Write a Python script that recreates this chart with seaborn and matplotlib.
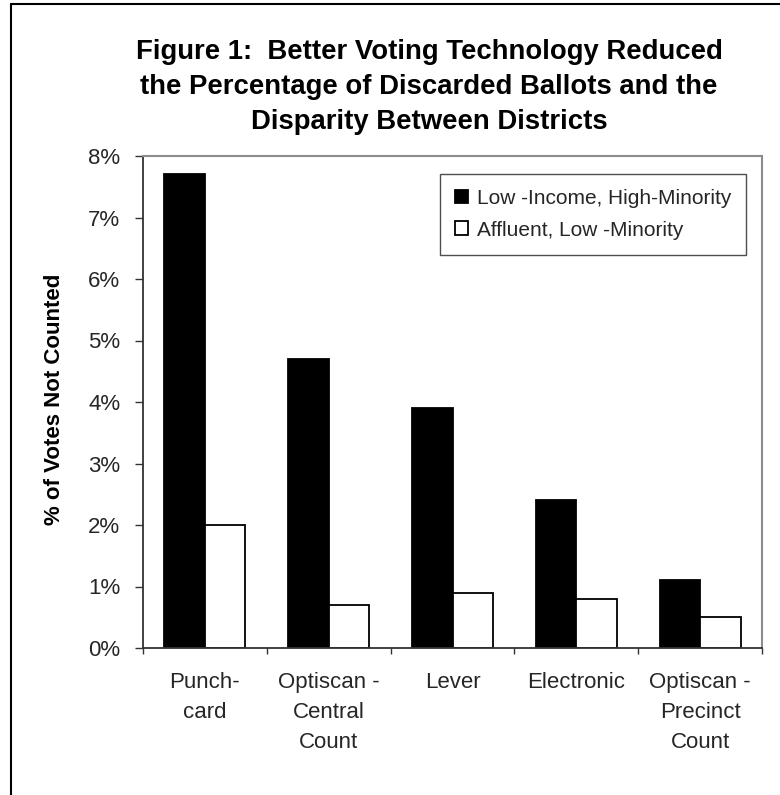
import matplotlib
matplotlib.use("Agg")
import matplotlib.pyplot as plt
import seaborn as sns
import pandas as pd
from matplotlib.lines import Line2D
from matplotlib.ticker import FixedLocator, FuncFormatter

categories = ["Punch-\ncard", "Optiscan -\nCentral\nCount", "Lever", "Electronic",
              "Optiscan -\nPrecinct\nCount"]
series_names = ["Low -Income, High-Minority", "Affluent, Low -Minority"]
low_income = [7.7, 4.7, 3.9, 2.4, 1.1]
affluent = [2.0, 0.7, 0.9, 0.8, 0.5]
y_ticks = [0, 1, 2, 3, 4, 5, 6, 7, 8]
title_lines = ["Figure 1:  Better Voting Technology Reduced",
               "the Percentage of Discarded Ballots and the",
               "Disparity Between Districts"]
y_label = "% of Votes Not Counted"

df = pd.DataFrame({
    "category": categories * 2,
    "series": [series_names[0]] * len(categories) + [series_names[1]] * len(categories),
    "value": low_income + affluent,
})

sns.set_theme(style="white")
plt.rcParams["font.family"] = ["Liberation Sans", "DejaVu Sans"]

W, H = 780, 795
fig = plt.figure(figsize=(W / 100, H / 100), dpi=100)
fig.patch.set_facecolor("white")

L, R, T, B = 143, 762, 156, 648
ax = fig.add_axes([L / W, 1 - B / H, (R - L) / W, (B - T) / H])

sns.barplot(data=df, x="category", y="value", hue="series", order=categories,
            hue_order=series_names, palette=["black", "white"], edgecolor="black",
            linewidth=1.3, width=0.654, gap=0, ax=ax, legend=True)

ax.set_ylim(0, 8)
ax.set_xlim(-0.5, len(categories) - 0.5)
ax.yaxis.set_major_locator(FixedLocator(y_ticks))
ax.yaxis.set_major_formatter(FuncFormatter(lambda v, p: f"{int(round(v))}%"))
ax.tick_params(axis="y", which="major", direction="out", length=5.8, width=1,
               color="#333333", labelsize=16, pad=10.5, left=True)

# category boundaries as major ticks, labels at centres via minor ticks
n = len(categories)
ax.xaxis.set_major_locator(FixedLocator([i - 0.5 for i in range(n + 1)]))
ax.xaxis.set_major_formatter(FuncFormatter(lambda v, p: ""))
ax.xaxis.set_minor_locator(FixedLocator(list(range(n))))
ax.set_xticklabels(categories, minor=True)
ax.tick_params(axis="x", which="major", direction="out", length=4.3, width=1,
               color="#333333", bottom=True)
ax.tick_params(axis="x", which="minor", length=0, labelsize=16, pad=17)
for lab in ax.get_xticklabels(minor=True):
    lab.set_linespacing(1.56)
    lab.set_multialignment("center")

ax.set_xlabel("")
ax.set_ylabel("")

for side in ["top", "right"]:
    ax.spines[side].set_visible(True)
    ax.spines[side].set_color("#8c8c8c")
    ax.spines[side].set_linewidth(1.5)
for side in ["left", "bottom"]:
    ax.spines[side].set_visible(True)
    ax.spines[side].set_color("#333333")
    ax.spines[side].set_linewidth(1.3)

leg = ax.legend(loc="upper right", bbox_to_anchor=((746 - L) / (R - L), (B - 174) / (B - T)),
                borderaxespad=0, frameon=True, fancybox=False, fontsize=15,
                handlelength=0.63, handleheight=0.63, handletextpad=0.42,
                labelspacing=0.6, borderpad=0.72, edgecolor="black")
leg.get_frame().set_linewidth(1.0)
leg.get_frame().set_edgecolor("#222222")

# title lines
for i, line in enumerate(title_lines):
    fig.text(429 / W, 1 - (59 + 35 * i) / H, line, ha="center", va="baseline",
             fontsize=19.8, fontweight="bold", color="black")

fig.text(55 / W, 1 - 399 / H, y_label, rotation=90, ha="center", va="center",
         fontsize=16, fontweight="bold", color="black")

# outer frame lines (top and left)
fig.add_artist(Line2D([11 / W, 1.0], [1 - 4 / H, 1 - 4 / H], transform=fig.transFigure,
                      color="black", linewidth=1.5))
fig.add_artist(Line2D([11 / W, 11 / W], [0.0, 1 - 4 / H], transform=fig.transFigure,
                      color="black", linewidth=1.5))

fig.savefig("out.png", dpi=100, facecolor="white")
